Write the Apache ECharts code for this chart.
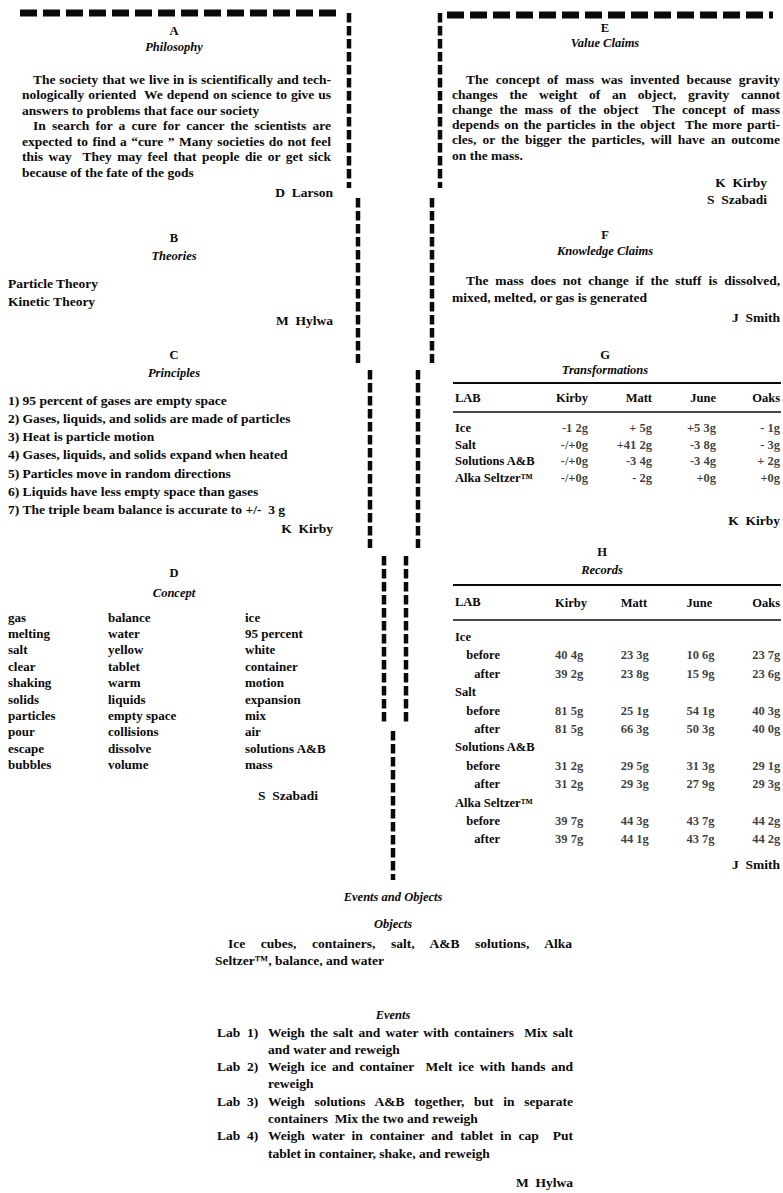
<!DOCTYPE html>
<html><head><meta charset="utf-8">
<script src="https://cdn.jsdelivr.net/npm/echarts@6/dist/echarts.min.js"></script>
<style>html,body{margin:0;padding:0;background:#fff}#c{width:783px;height:1193px}</style>
</head><body><div id="c"></div><script>
// ---------------- content / data ----------------
const philosophyLines = [
  'The society that we live in is scientifically and tech-',
  'nologically oriented  We depend on science to give us',
  'answers to problems that face our society',
  'In search for a cure for cancer the scientists are',
  'expected to find a \u201ccure \u201d Many societies do not feel',
  'this way  They may feel that people die or get sick',
  'because of the fate of the gods'
];
const philosophyIndent = [1, 0, 0, 1, 0, 0, 0];
const philosophyJustify = [1, 1, 0, 1, 1, 1, 0];
const theories = ['Particle Theory', 'Kinetic Theory'];
const principles = [
  '1) 95 percent of gases are empty space',
  '2) Gases, liquids, and solids are made of particles',
  '3) Heat is particle motion',
  '4) Gases, liquids, and solids expand when heated',
  '5) Particles move in random directions',
  '6) Liquids have less empty space than gases',
  '7) The triple beam balance is accurate to +/-  3 g'
];
const conceptCol1 = ['gas', 'melting', 'salt', 'clear', 'shaking', 'solids', 'particles', 'pour', 'escape', 'bubbles'];
const conceptCol2 = ['balance', 'water', 'yellow', 'tablet', 'warm', 'liquids', 'empty space', 'collisions', 'dissolve', 'volume'];
const conceptCol3 = ['ice', '95 percent', 'white', 'container', 'motion', 'expansion', 'mix', 'air', 'solutions A&B', 'mass'];
const valueLines = [
  'The concept of mass was invented because gravity',
  'changes the weight of an object, gravity cannot',
  'change the mass of the object  The concept of mass',
  'depends on the particles in the object  The more parti-',
  'cles, or the bigger the particles, will have an outcome',
  'on the mass.'
];
const knowledgeLines = [
  'The mass does not change if the stuff is dissolved,',
  'mixed, melted, or gas is generated'
];
const transformCols = ['Kirby', 'Matt', 'June', 'Oaks'];
const transformRows = ['Ice', 'Salt', 'Solutions A&B', 'Alka Seltzer\u2122'];
const transformIce = [-1.2, 0.5, 5.3, -0.1];
const transformSalt = ['-/+0', 41.2, -3.8, -0.3];
const transformSolutions = ['-/+0', -3.4, -3.4, 0.2];
const transformAlka = ['-/+0', -0.2, 0, 0];
const recordCols = ['Kirby', 'Matt', 'June', 'Oaks'];
const recordGroups = ['Ice', 'Salt', 'Solutions A&B', 'Alka Seltzer\u2122'];
const recordStages = ['before', 'after'];
const recordBefore = [[40.4, 23.3, 10.6, 23.7], [81.5, 25.1, 54.1, 40.3], [31.2, 29.5, 31.3, 29.1], [39.7, 44.3, 43.7, 44.2]];
const recordAfter  = [[39.2, 23.8, 15.9, 23.6], [81.5, 66.3, 50.3, 40.0], [31.2, 29.3, 27.9, 29.3], [39.7, 44.1, 43.7, 44.2]];
const objectsLines = ['Ice cubes, containers, salt, A&B solutions, Alka', 'Seltzer\u2122, balance, and water'];
const eventLabs = ['1)', '2)', '3)', '4)'];
const eventLines = [
  ['Weigh the salt and water with containers  Mix salt', 'and water and reweigh'],
  ['Weigh ice and container  Melt ice with hands and', 'reweigh'],
  ['Weigh solutions A&B together, but in separate', 'containers  Mix the two and reweigh'],
  ['Weigh water in container and tablet in cap  Put', 'tablet in container, shake, and reweigh']
];

// ---------------- rendering ----------------
const FAM = '"Liberation Serif", "Times New Roman", serif';
const SZ = 13.5, HSZ = 12.5, TSZ = 12.5, CSZ = 13;
const INK = '#0a0a0a';
const g = [];
const justify = {};           // text -> target width (justified lines)
function keep(s) { return s.replace(/  /g, '\u00a0 '); }
function T(x, y, text, o) {
  o = o || {};
  const t = keep(text);
  if (o.right) justify[t] = o.right - x;
  g.push({type: 'text', x: x, y: y, silent: true, z: 10,
    style: {text: t, fill: INK, font: (o.italic ? 'italic ' : '') + 'bold ' + (o.size || SZ) + 'px ' + FAM,
      align: o.align || 'left', verticalAlign: 'middle'}});
}
function H(x, y, text, italic) { T(x, y, text, {align: 'center', italic: italic, size: HSZ}); }
function D(x1, y1, x2, y2, w, d) {
  g.push({type: 'line', silent: true, shape: {x1: x1, y1: y1, x2: x2, y2: y2},
    style: {stroke: INK, lineWidth: w, lineDash: d || null}});
}
// Vee outline
const HD = [17, 6], VD = [9.5, 3.5];
D(20, 13, 342, 13, 7, HD);
D(447, 15, 773, 15, 7, HD);
D(349, 13, 349, 188, 4.5, VD);
D(358, 198, 358, 363, 4.5, VD);
D(370, 370, 370, 548, 4.5, VD);
D(384, 556, 384, 723, 4.5, VD);
D(393, 731, 393, 880, 4.5, VD);
D(440, 13, 440, 188, 4.5, VD);
D(432, 198, 432, 363, 4.5, VD);
D(418, 370, 418, 548, 4.5, VD);
D(406, 556, 406, 723, 4.5, VD);

const LC = 174, RC = 605, BC = 393;
// A
H(LC, 31, 'A'); H(LC, 47, 'Philosophy', true);
philosophyLines.forEach((s, i) => T(philosophyIndent[i] ? 33 : 22, 79 + i * 15.5, s, {right: philosophyJustify[i] ? 331 : 0}));
T(333, 192, 'D  Larson', {align: 'right'});
// B
H(LC, 238, 'B'); H(LC, 256, 'Theories', true);
theories.forEach((s, i) => T(8, 283 + i * 18, s));
T(333, 320, 'M  Hylwa', {align: 'right'});
// C
H(LC, 355, 'C'); H(LC, 373, 'Principles', true);
principles.forEach((s, i) => T(8, 400 + i * 18.3, s));
T(333, 528, 'K  Kirby', {align: 'right'});
// D
H(LC, 573, 'D'); H(LC, 593, 'Concept', true);
[conceptCol1, conceptCol2, conceptCol3].forEach((col, c) => col.forEach((s, i) => T([8, 108, 245][c], 617 + i * 16.4, s, {size: CSZ})));
T(258, 795, 'S  Szabadi');
// E
H(RC, 28, 'E'); H(RC, 43, 'Value Claims', true);
valueLines.forEach((s, i) => T(i === 0 ? 466 : 452, 79 + i * 15.2, s, {right: i < 5 ? 780 : 0}));
T(767, 182, 'K  Kirby', {align: 'right'});
T(767, 199, 'S  Szabadi', {align: 'right'});
// F
H(RC, 235, 'F'); H(RC, 251, 'Knowledge Claims', true);
knowledgeLines.forEach((s, i) => T(i === 0 ? 466 : 452, 280 + i * 17, s, {right: i === 0 ? 780 : 0}));
T(780, 317, 'J  Smith', {align: 'right'});
// G
H(RC, 355, 'G'); H(RC, 370, 'Transformations', true);
D(453, 383, 781, 383, 2);
D(453, 412, 781, 412, 1.3);
T(455, 398, 'LAB', {size: TSZ});
T(780, 520, 'K  Kirby', {align: 'right'});
// H
H(RC - 3, 552, 'H'); H(RC - 3, 570, 'Records', true);
D(453, 585, 781, 585, 2);
D(453, 620, 781, 620, 1.3);
T(455, 602, 'LAB', {size: TSZ});
T(780, 864, 'J  Smith', {align: 'right'});
// I
H(BC, 897, 'Events and Objects', true);
H(BC, 924, 'Objects', true);
T(228, 943, objectsLines[0], {right: 572});
T(215, 960, objectsLines[1]);
H(BC, 1015, 'Events', true);
eventLines.forEach((pair, i) => {
  const y = 1032 + i * 2 * 17.3;
  T(217, y, 'Lab');
  T(247, y, eventLabs[i]);
  T(268, y, pair[0], {right: 573});
  T(268, y + 17.3, pair[1]);
});
T(573, 1182, 'M  Hylwa', {align: 'right'});

// ---------------- tables through axes ----------------
function fmtChange(v) {
  if (typeof v === 'string') return v + 'g';
  if (v === 0) return '+0g';
  const a = Math.abs(v), ip = Math.floor(a + 1e-9), dp = Math.round((a - ip) * 10);
  return (v < 0 ? '-' : '+') + (ip ? ip : '') + (dp ? ' ' + dp : '') + 'g';
}
function fmtRec(v) { return v.toFixed(1).replace('.', ' ') + 'g'; }

const transformTable = [transformIce, transformSalt, transformSolutions, transformAlka];
const gData = [];
transformTable.forEach((row, r) => row.forEach((v, c) => gData.push([c, r, fmtChange(v)])));

const recordRows = [];
recordGroups.forEach(gr => { recordRows.push(gr); recordStages.forEach(s => recordRows.push(s)); });
const hData = [];
recordGroups.forEach((gr, gi) => {
  [recordBefore, recordAfter].forEach((arr, si) => arr[gi].forEach((v, c) => hData.push([c, gi * 3 + 1 + si, fmtRec(v)])));
});

const lbl = {fontFamily: FAM, fontWeight: 'bold', fontSize: TSZ, color: INK};
const hid = {axisLine: {show: false}, axisTick: {show: false}, splitLine: {show: false}};

const option = {
  animation: false,
  backgroundColor: '#fff',
  graphic: {elements: g},
  grid: [
    {left: 588, right: 3, top: 428, height: 50},
    {left: 555, right: 23, top: 637, height: 202.4}
  ],
  xAxis: [
    Object.assign({type: 'value', gridIndex: 0, min: 0, max: 3, interval: 1, position: 'top',
      axisLabel: Object.assign({formatter: v => transformCols[v] || '', align: 'right', margin: 24, showMinLabel: true, showMaxLabel: true}, lbl)}, hid),
    Object.assign({type: 'value', gridIndex: 1, min: 0, max: 3, interval: 1, position: 'top',
      axisLabel: Object.assign({formatter: v => recordCols[v] || '', align: 'left', margin: 28, showMinLabel: true, showMaxLabel: true}, lbl)}, hid)
  ],
  yAxis: [
    Object.assign({type: 'value', gridIndex: 0, min: 0, max: 3, interval: 1, inverse: true, position: 'left',
      axisLabel: Object.assign({formatter: v => transformRows[v] || '', align: 'left', margin: 133, showMinLabel: true, showMaxLabel: true}, lbl)}, hid),
    Object.assign({type: 'value', gridIndex: 1, min: 0, max: 11, interval: 1, inverse: true, position: 'left', offset: 0,
      axisLabel: Object.assign({formatter: v => (v % 3 === 0 ? recordRows[v] : ''), align: 'left', margin: 100, showMinLabel: true, showMaxLabel: true}, lbl)}, hid),
    Object.assign({type: 'value', gridIndex: 1, min: 0, max: 11, interval: 1, inverse: true, position: 'left', offset: 0,
      axisLabel: Object.assign({formatter: v => (v % 3 !== 0 ? recordRows[v] : ''), align: 'right', margin: 55, showMinLabel: true, showMaxLabel: true}, lbl)}, hid)
  ],
  series: [
    {type: 'scatter', xAxisIndex: 0, yAxisIndex: 0, data: gData, symbolSize: 0, silent: true,
      label: Object.assign({show: true, position: 'left', distance: 0, formatter: p => p.value[2]}, lbl)},
    {type: 'scatter', xAxisIndex: 1, yAxisIndex: 1, data: hData, symbolSize: 0, silent: true,
      label: Object.assign({show: true, position: 'right', distance: 0, formatter: p => p.value[2]}, lbl)}
  ]
};
const el = document.getElementById('c');
const chart = echarts.init(el, null, {renderer: 'svg', width: 783, height: 1193});

// justify paragraph lines (word spacing) once the SVG text exists
function applyJustify() {
  el.querySelectorAll('text').forEach(t => {
    const s = t.textContent;
    const w = justify[s];
    if (!w) return;
    t.style.wordSpacing = '0px';
    const natural = t.getComputedTextLength();
    const gaps = (s.match(/[ \u00a0]/g) || []).length;
    if (gaps && natural < w) t.style.wordSpacing = ((w - natural) / gaps).toFixed(2) + 'px';
  });
}
chart.on('finished', applyJustify);
chart.setOption(option);
setTimeout(applyJustify, 30);
setTimeout(applyJustify, 200);
</script></body></html>
